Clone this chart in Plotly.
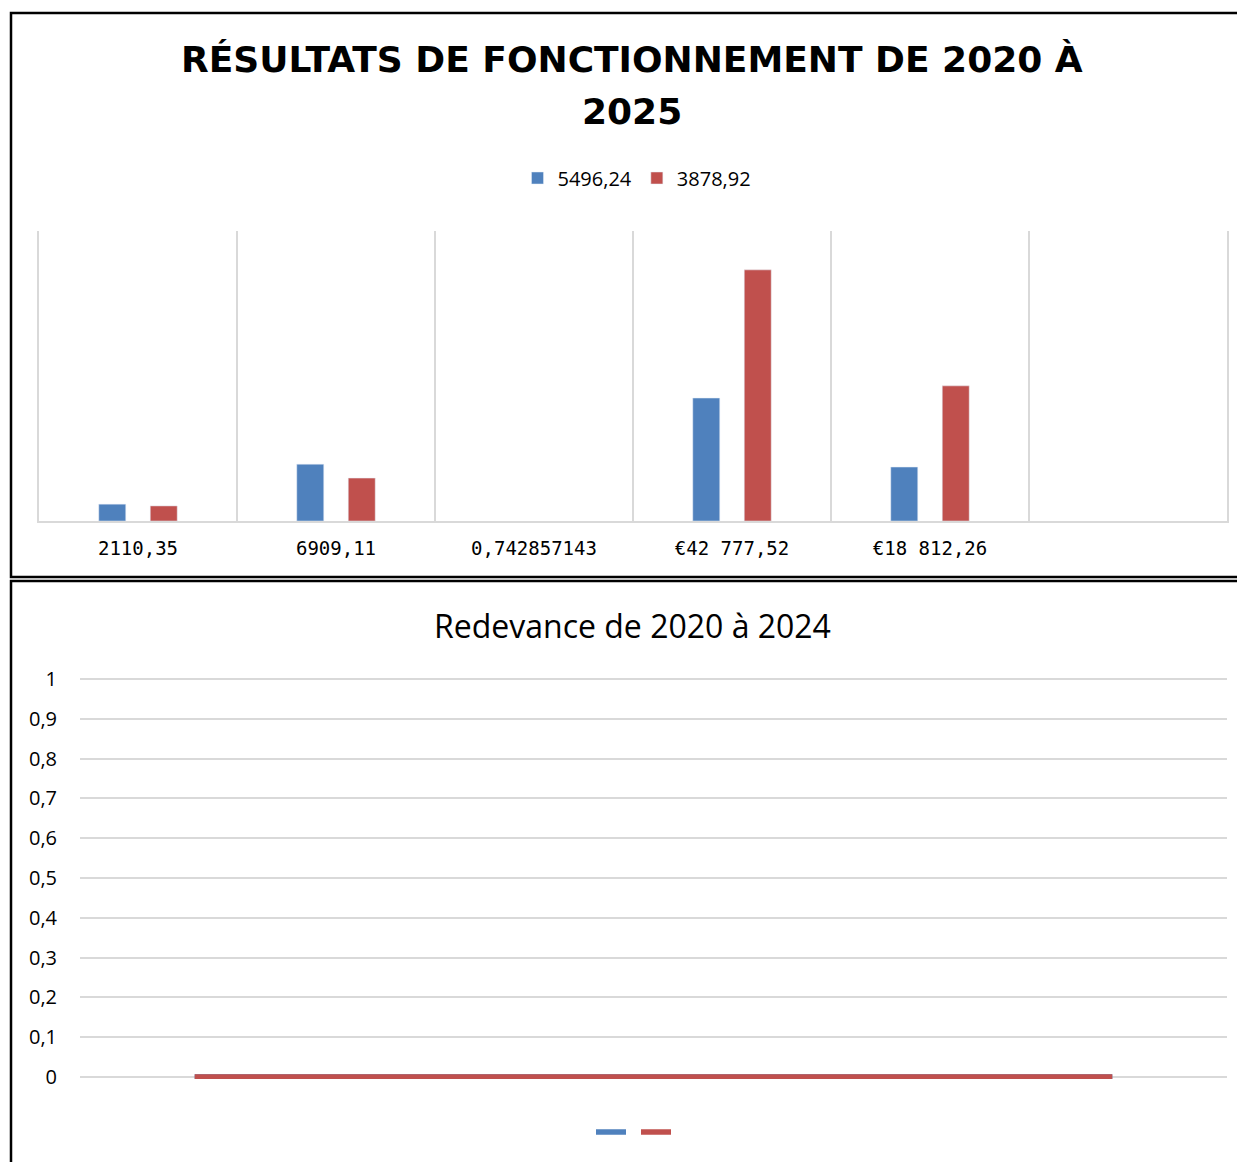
import plotly.graph_objects as go

W, H = 1245, 1162
OFF = 8  # page body margin

# top chart: operating results
categories = ["2110,35", "6909,11", "0,742857143", "€42 777,52", "€18 812,26", " "]
series_a_name = "5496,24"
series_a = [2900, 9800, None, 21200, 9300, None]
series_b_name = "3878,92"
series_b = [2600, 7400, None, 43300, 23300, None]

# bottom chart: royalty
years = ["2020", "2021", "2022", "2023", "2024"]
redevance_a = [0, 0, 0, 0, 0]
redevance_b = [0, 0, 0, 0, 0]
y_ticks = [0, 0.1, 0.2, 0.3, 0.4, 0.5, 0.6, 0.7, 0.8, 0.9, 1]

BLUE = "#4F81BD"
RED = "#C0504D"
GRID = "#D9D9D9"
FONT = "Open Sans"


def px_x(x):
    return (x - OFF) / W


def px_y(y):
    return 1 - (y - OFF) / H


fig = go.Figure()

fig.add_trace(go.Bar(x=categories, y=series_a, name=series_a_name,
                     marker_color=BLUE, xaxis="x", yaxis="y", legend="legend"))
fig.add_trace(go.Bar(x=categories, y=series_b, name=series_b_name,
                     marker_color=RED, xaxis="x", yaxis="y", legend="legend"))

fig.add_trace(go.Scatter(x=years, y=redevance_a, name="", mode="lines",
                         line=dict(color=BLUE, width=5.5), xaxis="x2", yaxis="y2",
                         legend="legend2"))
fig.add_trace(go.Scatter(x=years, y=redevance_b, name="", mode="lines",
                         line=dict(color=RED, width=5.5), xaxis="x2", yaxis="y2",
                         legend="legend2"))

# small padding so the 0 and 1 gridlines are kept
pad = 0.005
unit_px = 1077 - 679

fig.update_layout(
    width=W, height=H,
    margin=dict(l=0, r=0, t=0, b=0, autoexpand=False),
    paper_bgcolor="white", plot_bgcolor="white",
    separators=", ",
    font=dict(family=FONT, color="#000000"),
    barmode="group", bargap=0.48, bargroupgap=0.476,
    xaxis=dict(domain=[px_x(39), px_x(1227)], type="category",
               tickson="boundaries", ticks="", showgrid=True, gridcolor=GRID,
               gridwidth=1.5, showline=True, linecolor=GRID, linewidth=2,
               tickfont=dict(size=19, color="#000000",
                             family="DejaVu Sans Mono"),
               ticklabelstandoff=9, automargin=False, fixedrange=True),
    yaxis=dict(domain=[px_y(521), px_y(231)], range=[0, 50000],
               showgrid=False, showticklabels=False, zeroline=False,
               showline=True, mirror=True, linecolor=GRID, linewidth=1.5,
               ticks="", automargin=False, fixedrange=True),
    xaxis2=dict(domain=[px_x(80), px_x(1227)], type="category", anchor="y2",
                range=[-0.5, 4.5], showgrid=False, showticklabels=False,
                showline=False, ticks="", automargin=False, fixedrange=True),
    yaxis2=dict(domain=[px_y(1077 + pad * unit_px), px_y(679 - pad * unit_px)],
                anchor="x2", range=[-pad, 1 + pad], tickvals=y_ticks,
                showgrid=True, gridcolor=GRID, gridwidth=1.5, zeroline=False,
                showline=False, ticks="", tickfont=dict(size=20, color="#000000"),
                ticklabelstandoff=22, automargin=False, fixedrange=True),
    legend=dict(orientation="h", x=px_x(637), xanchor="center",
                y=px_y(178), yanchor="middle", font=dict(size=20),
                itemwidth=30, traceorder="normal"),
    legend2=dict(orientation="h", x=px_x(636), xanchor="center",
                 y=px_y(1132), yanchor="middle", font=dict(size=20),
                 itemwidth=30, traceorder="normal"),
)

title_font = dict(size=36, color="#000000", family="DejaVu Sans")
fig.add_annotation(text="<b>RÉSULTATS DE FONCTIONNEMENT DE 2020 À</b>",
                   xref="paper", yref="paper", x=px_x(632), y=px_y(60),
                   xanchor="center", yanchor="middle", showarrow=False,
                   font=title_font)
fig.add_annotation(text="<b>2025</b>",
                   xref="paper", yref="paper", x=px_x(632), y=px_y(112),
                   xanchor="center", yanchor="middle", showarrow=False,
                   font=title_font)
fig.add_annotation(text="Redevance de 2020 à 2024",
                   xref="paper", yref="paper", x=px_x(632), y=px_y(625),
                   xanchor="center", yanchor="middle", showarrow=False,
                   font=dict(size=32, color="#000000", family=FONT))

# chart frames
fig.add_shape(type="rect", xref="paper", yref="paper",
              x0=px_x(11), x1=px_x(1270), y0=px_y(577), y1=px_y(13),
              line=dict(color="black", width=2.5))
fig.add_shape(type="rect", xref="paper", yref="paper",
              x0=px_x(11), x1=px_x(1270), y0=px_y(1185), y1=px_y(581),
              line=dict(color="black", width=2.5))

fig.write_html("out.html")
